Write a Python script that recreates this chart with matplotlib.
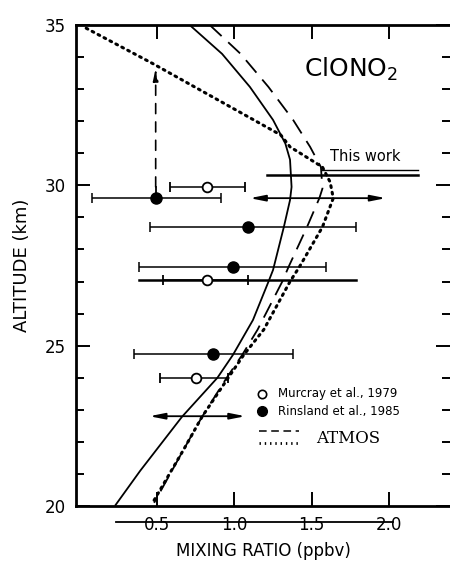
import numpy as np
import matplotlib
matplotlib.use("Agg")
from matplotlib import pyplot as plt

# profile curves (mixing ratio ppbv, altitude km)
solid_x   = [0.71, 0.92, 1.10, 1.25, 1.33, 1.36, 1.37, 1.36, 1.32, 1.25, 1.22, 1.12, 0.99, 0.89, 0.66, 0.39, 0.23]
solid_alt = [35.0, 34.1, 33.07, 32.04, 31.3, 30.8, 29.95, 29.54, 28.7, 27.36, 26.99, 25.8, 24.71, 24.0, 22.78, 21.1, 20.03]

dash_x   = [0.84, 1.04, 1.22, 1.38, 1.49, 1.56, 1.57, 1.55, 1.47, 1.35, 1.31, 1.15, 1.05, 0.95, 0.79, 0.67, 0.48]
dash_alt = [35.0, 34.1, 33.07, 32.04, 31.2, 30.57, 29.9, 29.6, 28.7, 27.45, 27.0, 25.5, 24.71, 24.0, 22.78, 21.75, 20.1]

dot_x   = [0.04, 0.47, 1.30, 1.36, 1.57, 1.62, 1.64, 1.57, 1.42, 1.36, 1.19, 1.06, 0.96, 0.79, 0.67, 0.47]
dot_alt = [34.9, 33.8, 31.57, 31.2, 30.57, 30.1, 29.6, 28.7, 27.45, 27.0, 25.5, 24.71, 24.0, 22.78, 21.75, 20.1]

# Murcray et al., 1979 (open)
mur_x   = [0.82, 0.82, 0.75]
mur_alt = [29.95, 27.05, 24.0]
mur_lo  = [0.58, 0.54, 0.52]
mur_hi  = [1.07, 1.09, 0.96]

# Rinsland et al., 1985 (filled)
rin_x   = [0.49, 1.09, 0.99, 0.86]
rin_alt = [29.6, 28.7, 27.45, 24.75]
rin_lo  = [0.08, 0.45, 0.38, 0.35]
rin_hi  = [0.91, 1.79, 1.59, 1.38]

# double arrows (range, altitude)
arr_lo  = [1.10, 0.45]
arr_hi  = [1.98, 1.07]
arr_alt = [29.6, 22.8]

fig = plt.figure(figsize=(4.5, 5.65), dpi=100)
ax = fig.add_axes([76/450, 1-506/565, 374/450, 481/565])

ax.plot(solid_x, solid_alt, color="black", lw=1.3)
ax.plot(dash_x, dash_alt, color="black", lw=1.3, dashes=(9, 5))
ax.plot(dot_x, dot_alt, color="black", lw=2.2, ls=(0, (0.6, 1.6)), dash_capstyle="round")

ax.errorbar(mur_x, mur_alt, xerr=[np.subtract(mur_x, mur_lo), np.subtract(mur_hi, mur_x)],
            fmt="o", mfc="white", mec="black", mew=1.3, ms=7, ecolor="black",
            elinewidth=1.1, capsize=3.5, capthick=1.1, zorder=5)
ax.errorbar(rin_x, rin_alt, xerr=[np.subtract(rin_x, rin_lo), np.subtract(rin_hi, rin_x)],
            fmt="o", mfc="black", mec="black", ms=8, ecolor="black",
            elinewidth=1.1, capsize=3.5, capthick=1.1, zorder=5)

for lo, hi, a in zip(arr_lo, arr_hi, arr_alt):
    ax.annotate("", xy=(lo, a), xytext=(hi, a),
                arrowprops=dict(arrowstyle="<|-|>,head_length=0.9,head_width=0.18",
                                color="black", lw=1.3, shrinkA=0, shrinkB=0))

# This work
ax.plot([1.21, 2.19], [30.32, 30.32], color="black", lw=1.8)
ax.plot([1.57, 2.19], [30.48, 30.48], color="black", lw=1.0)
ax.plot([0.38, 1.79], [27.05, 27.05], color="black", lw=1.8)
ax.text(1.62, 30.75, "This work", fontsize=10.5)

# dashed arrow
ax.plot([0.49, 0.49], [29.6, 29.95], color="black", lw=1.3)
ax.annotate("", xy=(0.49, 33.65), xytext=(0.49, 29.95),
            arrowprops=dict(arrowstyle="-|>,head_length=0.7,head_width=0.15",
                            color="black", lw=1.2, ls=(0, (6, 5)), shrinkA=0, shrinkB=0))

ax.text(1.45, 33.4, "ClONO$_2$", fontsize=18)

# legend
ax.plot([1.18], [23.5], "o", mfc="white", mec="black", mew=1.2, ms=6)
ax.plot([1.18], [22.95], "o", color="black", ms=7)
ax.text(1.28, 23.5, "Murcray et al., 1979", fontsize=8.5, va="center")
ax.text(1.28, 22.95, "Rinsland et al., 1985", fontsize=8.5, va="center")
ax.plot([1.16, 1.42], [22.35, 22.35], color="black", lw=1.1, dashes=(5, 3))
ax.plot([1.16, 1.42], [21.95, 21.95], color="black", lw=2.0, ls=(0, (0.5, 1.4)))
ax.text(1.53, 22.1, "ATMOS", fontsize=12, family="DejaVu Serif", va="center")

# scan artifact line through tick labels
ax.plot([0.23, 2.03], [19.5, 19.5], color="black", lw=1.3, clip_on=False)

ax.set_xlim(-0.026, 2.396)
ax.set_ylim(20, 35)
ax.set_xticks([0.5, 1.0, 1.5, 2.0])
ax.set_xticklabels(["0.5", "1.0", "1.5", "2.0"])
ax.set_yticks([20, 25, 30, 35])
ax.set_yticks(np.arange(20, 36, 1), minor=True)
ax.tick_params(axis="both", which="major", direction="in", length=10, width=1.4, labelsize=12)
ax.tick_params(axis="y", which="minor", direction="in", length=6, width=1.4, right=True)
ax.tick_params(axis="y", which="major", right=True)
ax.tick_params(axis="x", top=True, pad=7)
ax.tick_params(axis="y", pad=7)
for s in ["left", "bottom", "top"]:
    ax.spines[s].set_linewidth(2)
ax.spines["right"].set_visible(False)

ax.set_ylabel("ALTITUDE (km)", fontsize=13, labelpad=10)
ax.set_xlabel("MIXING RATIO (ppbv)", fontsize=12, labelpad=6)

fig.savefig("out.png", dpi=100)
